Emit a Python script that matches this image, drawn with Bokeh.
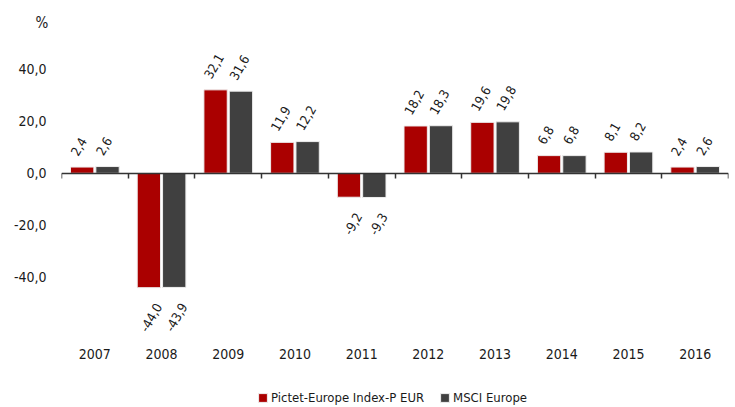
import numpy as np
from bokeh.plotting import figure
from bokeh.models import (ColumnDataSource, FixedTicker, LinearAxis, Range1d,
                          Legend, LegendItem, Title)
from bokeh.core.properties import value
from bokeh.embed import file_html
from bokeh.resources import INLINE

# ---- data ----
years = ["2007", "2008", "2009", "2010", "2011", "2012", "2013", "2014", "2015", "2016"]
pictet = [2.4, -44.0, 32.1, 11.9, -9.2, 18.2, 19.6, 6.8, 8.1, 2.4]
msci = [2.6, -43.9, 31.6, 12.2, -9.3, 18.3, 19.8, 6.8, 8.2, 2.6]
series_names = ["Pictet-Europe Index-P EUR", "MSCI Europe"]
y_ticks = [-40, -20, 0, 20, 40]

FONT = "DejaVu Sans Condensed"
TXT = "#1a1a1a"
colors = ["#aa0000", "#404040"]
offsets = [-0.19, 0.19]
CAT_AXIS_Y = -71.4   # layout: where the category labels sit


def fmt(v):
    return f"{v:.1f}".replace(".", ",")


p = figure(width=735, height=407,
           x_range=Range1d(0, len(years)), y_range=Range1d(-90.08, 51.08),
           x_axis_location="above",
           output_backend="svg", toolbar_location=None,
           min_border_left=61, min_border_right=7,
           min_border_top=40, min_border_bottom=0)
p.grid.visible = False
p.outline_line_color = None
p.background_fill_color = "white"
p.border_fill_color = "white"

p.title = Title(text="%", align="left", offset=-26, standoff=17,
                text_font=FONT, text_font_size="15px", text_font_style="normal",
                text_color=TXT)

centers = np.arange(len(years)) + 0.5
renderers = []
for vals, off, col in zip([pictet, msci], offsets, colors):
    xs = centers + off
    src = ColumnDataSource(dict(x=xs, top=vals))
    r = p.vbar(x="x", top="top", bottom=0, width=0.35, source=src,
               fill_color=col, line_color="#eeeeee", line_width=1)
    renderers.append(r)
    arr = np.array(vals)
    pos = arr >= 0
    neg = ~pos
    ps = ColumnDataSource(dict(x=xs[pos], y=arr[pos], t=[fmt(v) for v in arr[pos]]))
    ns = ColumnDataSource(dict(x=xs[neg], y=arr[neg], t=[fmt(v) for v in arr[neg]]))
    p.text(x="x", y="y", text="t", source=ps, angle=np.pi / 3,
           text_align="left", text_baseline="bottom", x_offset=-4, y_offset=-10,
           text_font=value(FONT), text_font_size="13px", text_color=TXT)
    p.text(x="x", y="y", text="t", source=ns, angle=np.pi / 3,
           text_align="right", text_baseline="top", x_offset=6, y_offset=14.5,
           text_font=value(FONT), text_font_size="13px", text_color=TXT)

# category label axis
ax = p.xaxis[0]
ax.fixed_location = CAT_AXIS_Y
ax.ticker = FixedTicker(ticks=list(centers))
ax.major_label_overrides = {float(c): y for c, y in zip(centers, years)}
ax.axis_line_color = None
ax.major_tick_line_color = None
ax.minor_tick_line_color = None
ax.major_tick_in = 0
ax.major_tick_out = 0
ax.major_label_standoff = 0
ax.major_label_text_font = FONT
ax.major_label_text_font_size = "14px"
ax.major_label_text_color = TXT

# zero line axis with boundary ticks
zero_axis = LinearAxis(fixed_location=0,
                       ticker=FixedTicker(ticks=list(range(len(years) + 1))),
                       major_tick_out=0, major_tick_in=5,
                       axis_line_color="#333333", axis_line_width=1.5,
                       major_tick_line_color="#333333", major_tick_line_width=1.5,
                       minor_tick_line_color=None,
                       major_label_text_font_size="1px", major_label_text_alpha=0,
                       major_label_standoff=0)
p.add_layout(zero_axis, "above")

# y axis
yax = p.yaxis[0]
yax.ticker = FixedTicker(ticks=y_ticks)
yax.major_label_overrides = {t: fmt(t) for t in y_ticks}
yax.axis_line_color = None
yax.major_tick_line_color = None
yax.minor_tick_line_color = None
yax.major_label_standoff = 9
yax.major_label_text_font = FONT
yax.major_label_text_font_size = "14px"
yax.major_label_text_color = TXT

legend = Legend(items=[LegendItem(label=n, renderers=[r]) for n, r in zip(series_names, renderers)],
                orientation="horizontal", location=(196, 2),
                glyph_width=11, glyph_height=11, label_standoff=3, spacing=15,
                label_height=11, padding=0, margin=0,
                border_line_color=None, background_fill_alpha=0,
                label_text_font=FONT, label_text_font_size="13px", label_text_color=TXT)
p.add_layout(legend, "center")

open("out.html", "w").write(file_html(p, INLINE))
